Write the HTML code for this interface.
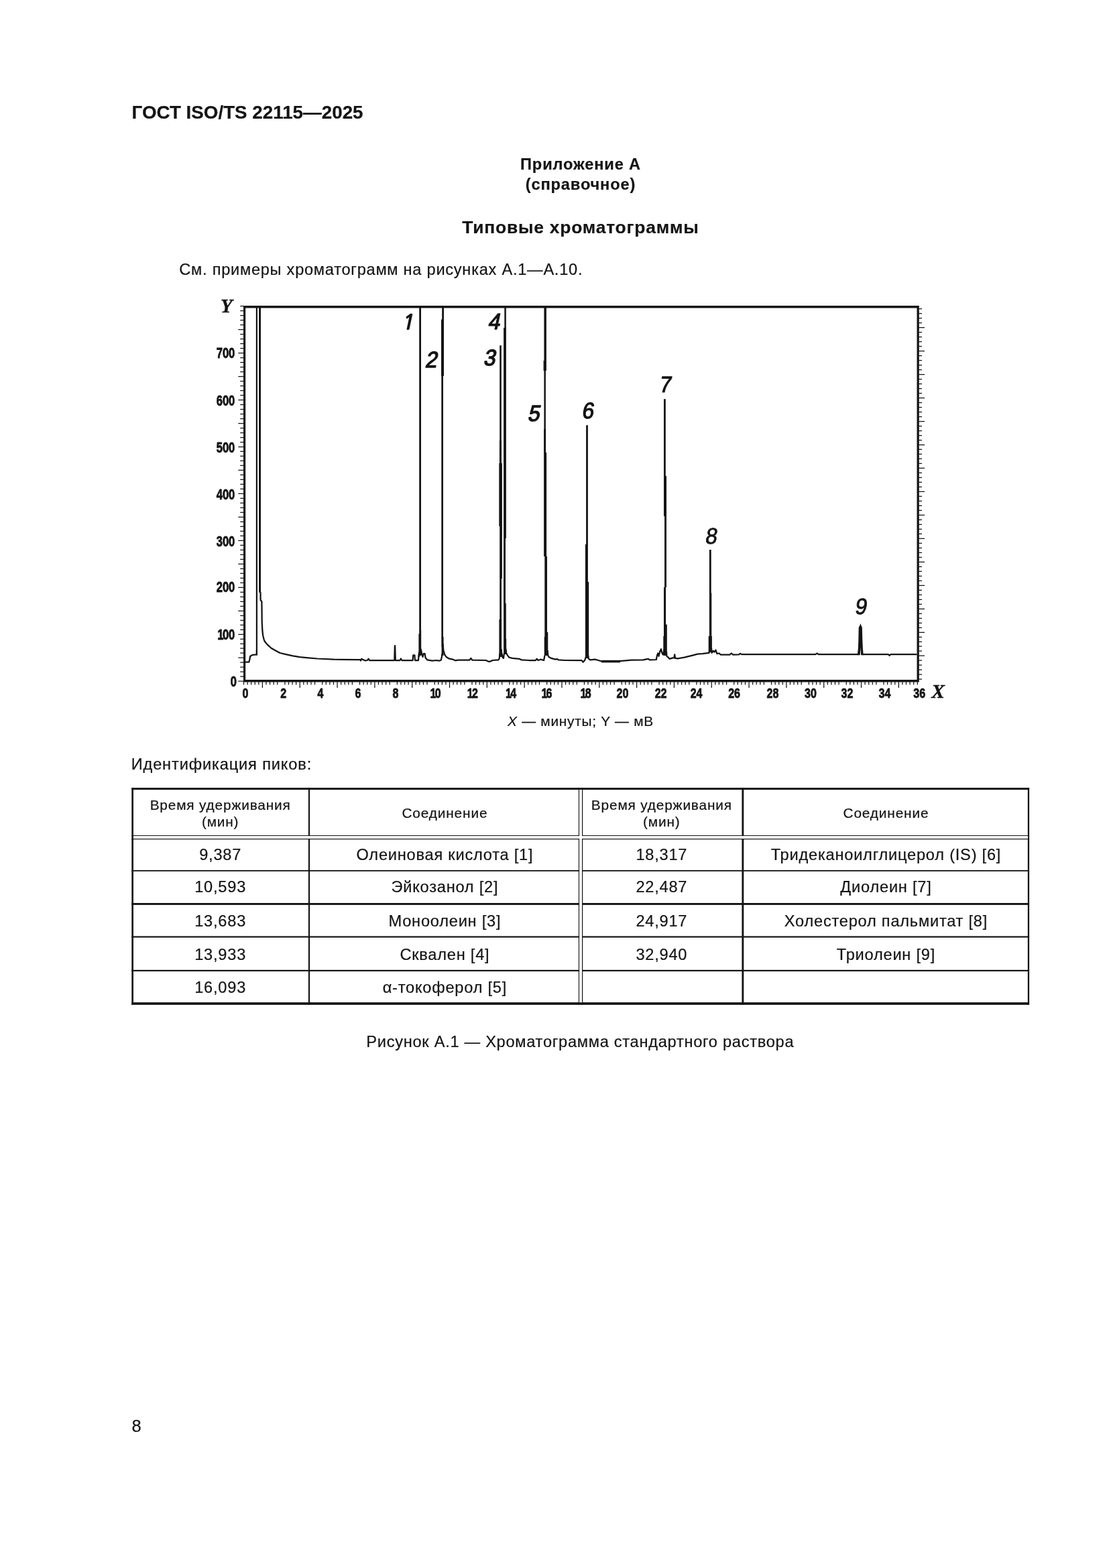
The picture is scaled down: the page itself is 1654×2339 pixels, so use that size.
<!DOCTYPE html>
<html lang="ru">
<head>
<meta charset="utf-8">
<title>ГОСТ ISO/TS 22115—2025 — Приложение А</title>
<style>
html,body{margin:0;padding:0;background:#fff;}
body{width:1654px;height:2339px;position:relative;overflow:hidden;color:#141414;
  font-family:"Liberation Sans",Arial,Helvetica,sans-serif;}
.t{position:absolute;white-space:nowrap;line-height:1;margin:0;}
.t,table.pk{-webkit-text-stroke:.22px #141414;}
.c{text-align:center;left:0;width:1732px;}
.cap{left:-.7px;}
.hdr{left:196.6px;top:153.5px;font-size:27.78px;font-weight:bold;}
.app{top:231.2px;font-size:23.6px;font-weight:bold;line-height:29.8px;letter-spacing:.85px;}
.ttl{top:326.1px;font-size:26.4px;font-weight:bold;letter-spacing:.79px;}
.see{left:267.3px;top:390.8px;font-size:23.6px;letter-spacing:.74px;}
.axcap{top:1065.8px;font-size:20.83px;letter-spacing:.75px;}
.idp{left:195.7px;top:1128.8px;font-size:23.6px;letter-spacing:.86px;}
.cap{top:1542.5px;font-size:23.6px;letter-spacing:.73px;}
.pn{left:196.5px;top:2114.7px;font-size:25.5px;}
svg.chart{position:absolute;left:0;top:0;}
svg .p1{font-family:"NanumGothic","IPAGothic","Liberation Sans",sans-serif !important;stroke-width:2px !important;}
svg .tk{font-family:"Liberation Sans",Arial,sans-serif;font-weight:bold;fill:#141414;stroke:#141414;stroke-width:.8px;stroke-linejoin:round;}
svg .ax{font-family:"Liberation Serif","Times New Roman",serif;font-weight:bold;font-style:italic;fill:#141414;stroke:#141414;stroke-width:.4px;}
svg .pk{font-family:"Liberation Sans",Arial,sans-serif;fill:#141414;stroke:#141414;stroke-width:1.5px;stroke-linejoin:round;}
svg .pl{stroke-width:.9px;}
svg .pm{stroke-width:1.25px;}
table.pk{position:absolute;left:196.3px;top:1175.1px;border-collapse:collapse;table-layout:fixed;
  width:1338.8px;font-size:23.6px;letter-spacing:.78px;text-align:center;}
table.pk td{padding:3.6px 0 0 0;}
table.pk th{padding:2.4px 0 0 0;}
table.pk td,table.pk th{font-weight:normal;vertical-align:middle;line-height:1;}
table.pk th.h2{font-size:20.83px;letter-spacing:.83px;line-height:25px;}
table.pk th.h1{font-size:20.83px;letter-spacing:.85px;}
svg.tl{position:absolute;left:0;top:1170px;}
</style>
</head>
<body>
<div class="t hdr">ГОСТ ISO/TS 22115—2025</div>
<div class="t c app">Приложение А<br>(справочное)</div>
<div class="t c ttl">Типовые хроматограммы</div>
<div class="t see">См. примеры хроматограмм на рисунках А.1—А.10.</div>
<svg class="chart" width="1654" height="1100" viewBox="0 0 1654 1100">
<path d="M363 456H1370.8V1017.6H363Z M366.2 459.6V1013.9H1367.5V459.6Z" fill="#141414" fill-rule="evenodd"/>
<path d="M355.3 1016.20H363.5M1370.3 1013.20H1375.0M358.2 1009.21H363.5M1370.3 1006.21H1375.0M358.2 1002.21H363.5M1370.3 999.21H1375.0M358.2 995.22H363.5M1370.3 992.22H1375.0M358.2 988.22H363.5M1370.3 985.22H1375.0M355.3 981.23H363.5M1370.3 978.23H1379.0M358.2 974.24H363.5M1370.3 971.24H1375.0M358.2 967.24H363.5M1370.3 964.24H1375.0M358.2 960.25H363.5M1370.3 957.25H1375.0M358.2 953.25H363.5M1370.3 950.25H1375.0M355.3 946.26H363.5M1370.3 943.26H1379.0M358.2 939.27H363.5M1370.3 936.27H1375.0M358.2 932.27H363.5M1370.3 929.27H1375.0M358.2 925.28H363.5M1370.3 922.28H1375.0M358.2 918.28H363.5M1370.3 915.28H1375.0M355.3 911.29H363.5M1370.3 908.29H1379.0M358.2 904.30H363.5M1370.3 901.30H1375.0M358.2 897.30H363.5M1370.3 894.30H1375.0M358.2 890.31H363.5M1370.3 887.31H1375.0M358.2 883.31H363.5M1370.3 880.31H1375.0M355.3 876.32H363.5M1370.3 873.32H1379.0M358.2 869.33H363.5M1370.3 866.33H1375.0M358.2 862.33H363.5M1370.3 859.33H1375.0M358.2 855.34H363.5M1370.3 852.34H1375.0M358.2 848.34H363.5M1370.3 845.34H1375.0M355.3 841.35H363.5M1370.3 838.35H1379.0M358.2 834.36H363.5M1370.3 831.36H1375.0M358.2 827.36H363.5M1370.3 824.36H1375.0M358.2 820.37H363.5M1370.3 817.37H1375.0M358.2 813.37H363.5M1370.3 810.37H1375.0M355.3 806.38H363.5M1370.3 803.38H1379.0M358.2 799.39H363.5M1370.3 796.39H1375.0M358.2 792.39H363.5M1370.3 789.39H1375.0M358.2 785.40H363.5M1370.3 782.40H1375.0M358.2 778.40H363.5M1370.3 775.40H1375.0M355.3 771.41H363.5M1370.3 768.41H1379.0M358.2 764.42H363.5M1370.3 761.42H1375.0M358.2 757.42H363.5M1370.3 754.42H1375.0M358.2 750.43H363.5M1370.3 747.43H1375.0M358.2 743.43H363.5M1370.3 740.43H1375.0M355.3 736.44H363.5M1370.3 733.44H1379.0M358.2 729.45H363.5M1370.3 726.45H1375.0M358.2 722.45H363.5M1370.3 719.45H1375.0M358.2 715.46H363.5M1370.3 712.46H1375.0M358.2 708.46H363.5M1370.3 705.46H1375.0M355.3 701.47H363.5M1370.3 698.47H1379.0M358.2 694.48H363.5M1370.3 691.48H1375.0M358.2 687.48H363.5M1370.3 684.48H1375.0M358.2 680.49H363.5M1370.3 677.49H1375.0M358.2 673.49H363.5M1370.3 670.49H1375.0M355.3 666.50H363.5M1370.3 663.50H1379.0M358.2 659.51H363.5M1370.3 656.51H1375.0M358.2 652.51H363.5M1370.3 649.51H1375.0M358.2 645.52H363.5M1370.3 642.52H1375.0M358.2 638.52H363.5M1370.3 635.52H1375.0M355.3 631.53H363.5M1370.3 628.53H1379.0M358.2 624.54H363.5M1370.3 621.54H1375.0M358.2 617.54H363.5M1370.3 614.54H1375.0M358.2 610.55H363.5M1370.3 607.55H1375.0M358.2 603.55H363.5M1370.3 600.55H1375.0M355.3 596.56H363.5M1370.3 593.56H1379.0M358.2 589.57H363.5M1370.3 586.57H1375.0M358.2 582.57H363.5M1370.3 579.57H1375.0M358.2 575.58H363.5M1370.3 572.58H1375.0M358.2 568.58H363.5M1370.3 565.58H1375.0M355.3 561.59H363.5M1370.3 558.59H1379.0M358.2 554.60H363.5M1370.3 551.60H1375.0M358.2 547.60H363.5M1370.3 544.60H1375.0M358.2 540.61H363.5M1370.3 537.61H1375.0M358.2 533.61H363.5M1370.3 530.61H1375.0M355.3 526.62H363.5M1370.3 523.62H1379.0M358.2 519.63H363.5M1370.3 516.63H1375.0M358.2 512.63H363.5M1370.3 509.63H1375.0M358.2 505.64H363.5M1370.3 502.64H1375.0M358.2 498.64H363.5M1370.3 495.64H1375.0M355.3 491.65H363.5M1370.3 488.65H1379.0M358.2 484.66H363.5M1370.3 481.66H1375.0M358.2 477.66H363.5M1370.3 474.66H1375.0M358.2 470.67H363.5M1370.3 467.67H1375.0M358.2 463.67H363.5M1370.3 460.67H1375.0M358.2 456.68H363.5M363.50 1017.1V1021.6M369.08 1017.1V1021.6M374.66 1017.1V1021.6M380.25 1017.1V1021.6M385.83 1017.1V1021.6M391.41 1017.1V1025.9M396.99 1017.1V1021.6M402.57 1017.1V1021.6M408.16 1017.1V1021.6M413.74 1017.1V1021.6M424.90 1017.1V1021.6M430.48 1017.1V1021.6M436.07 1017.1V1021.6M441.65 1017.1V1021.6M447.23 1017.1V1025.9M452.81 1017.1V1021.6M458.39 1017.1V1021.6M463.98 1017.1V1021.6M469.56 1017.1V1021.6M480.72 1017.1V1021.6M486.30 1017.1V1021.6M491.89 1017.1V1021.6M497.47 1017.1V1021.6M503.05 1017.1V1025.9M508.63 1017.1V1021.6M514.21 1017.1V1021.6M519.80 1017.1V1021.6M525.38 1017.1V1021.6M536.54 1017.1V1021.6M542.12 1017.1V1021.6M547.71 1017.1V1021.6M553.29 1017.1V1021.6M558.87 1017.1V1025.9M564.45 1017.1V1021.6M570.03 1017.1V1021.6M575.62 1017.1V1021.6M581.20 1017.1V1021.6M592.36 1017.1V1021.6M597.94 1017.1V1021.6M603.53 1017.1V1021.6M609.11 1017.1V1021.6M614.69 1017.1V1025.9M620.27 1017.1V1021.6M625.85 1017.1V1021.6M631.44 1017.1V1021.6M637.02 1017.1V1021.6M648.18 1017.1V1021.6M653.76 1017.1V1021.6M659.35 1017.1V1021.6M664.93 1017.1V1021.6M670.51 1017.1V1025.9M676.09 1017.1V1021.6M681.67 1017.1V1021.6M687.26 1017.1V1021.6M692.84 1017.1V1021.6M704.00 1017.1V1021.6M709.58 1017.1V1021.6M715.17 1017.1V1021.6M720.75 1017.1V1021.6M726.33 1017.1V1025.9M731.91 1017.1V1021.6M737.49 1017.1V1021.6M743.08 1017.1V1021.6M748.66 1017.1V1021.6M759.82 1017.1V1021.6M765.40 1017.1V1021.6M770.99 1017.1V1021.6M776.57 1017.1V1021.6M782.15 1017.1V1025.9M787.73 1017.1V1021.6M793.31 1017.1V1021.6M798.90 1017.1V1021.6M804.48 1017.1V1021.6M815.64 1017.1V1021.6M821.22 1017.1V1021.6M826.81 1017.1V1021.6M832.39 1017.1V1021.6M837.97 1017.1V1025.9M843.55 1017.1V1021.6M849.13 1017.1V1021.6M854.72 1017.1V1021.6M860.30 1017.1V1021.6M871.46 1017.1V1021.6M877.04 1017.1V1021.6M882.63 1017.1V1021.6M888.21 1017.1V1021.6M893.79 1017.1V1025.9M899.37 1017.1V1021.6M904.95 1017.1V1021.6M910.54 1017.1V1021.6M916.12 1017.1V1021.6M927.28 1017.1V1021.6M932.86 1017.1V1021.6M938.45 1017.1V1021.6M944.03 1017.1V1021.6M949.61 1017.1V1025.9M955.19 1017.1V1021.6M960.77 1017.1V1021.6M966.36 1017.1V1021.6M971.94 1017.1V1021.6M983.10 1017.1V1021.6M988.68 1017.1V1021.6M994.27 1017.1V1021.6M999.85 1017.1V1021.6M1005.43 1017.1V1025.9M1011.01 1017.1V1021.6M1016.59 1017.1V1021.6M1022.18 1017.1V1021.6M1027.76 1017.1V1021.6M1038.92 1017.1V1021.6M1044.50 1017.1V1021.6M1050.09 1017.1V1021.6M1055.67 1017.1V1021.6M1061.25 1017.1V1025.9M1066.83 1017.1V1021.6M1072.41 1017.1V1021.6M1078.00 1017.1V1021.6M1083.58 1017.1V1021.6M1094.74 1017.1V1021.6M1100.32 1017.1V1021.6M1105.91 1017.1V1021.6M1111.49 1017.1V1021.6M1117.07 1017.1V1025.9M1122.65 1017.1V1021.6M1128.23 1017.1V1021.6M1133.82 1017.1V1021.6M1139.40 1017.1V1021.6M1150.56 1017.1V1021.6M1156.14 1017.1V1021.6M1161.73 1017.1V1021.6M1167.31 1017.1V1021.6M1172.89 1017.1V1025.9M1178.47 1017.1V1021.6M1184.05 1017.1V1021.6M1189.64 1017.1V1021.6M1195.22 1017.1V1021.6M1206.38 1017.1V1021.6M1211.96 1017.1V1021.6M1217.55 1017.1V1021.6M1223.13 1017.1V1021.6M1228.71 1017.1V1025.9M1234.29 1017.1V1021.6M1239.87 1017.1V1021.6M1245.46 1017.1V1021.6M1251.04 1017.1V1021.6M1262.20 1017.1V1021.6M1267.78 1017.1V1021.6M1273.37 1017.1V1021.6M1278.95 1017.1V1021.6M1284.53 1017.1V1025.9M1290.11 1017.1V1021.6M1295.69 1017.1V1021.6M1301.28 1017.1V1021.6M1306.86 1017.1V1021.6M1318.02 1017.1V1021.6M1323.60 1017.1V1021.6M1329.19 1017.1V1021.6M1334.77 1017.1V1021.6M1340.35 1017.1V1025.9M1345.93 1017.1V1021.6M1351.51 1017.1V1021.6M1357.10 1017.1V1021.6M1362.68 1017.1V1021.6M1368.26 1017.1V1021.6" fill="none" stroke="#141414" stroke-width="1.25"/>
<polyline points="366.0,987.7 371.3,987.7 372.3,984.0 373.2,979.0 375.0,977.8 377.5,976.8 382.9,976.3 382.9,970.0" fill="none" stroke="#141414" stroke-width="2.25" stroke-linejoin="round" stroke-linecap="butt"/>
<polyline points="387.6,880.0 387.6,882.8 388.5,884.0 388.6,895.0 390.4,897.5 390.7,928.0 391.4,941.0 392.2,948.0 393.5,953.3 394.8,956.8 398.3,961.1 404.4,966.8 412.3,971.2 417.5,974.0 425.3,975.8 436.7,978.4 447.1,980.1 460.0,981.4 473.3,982.5 497.9,983.7 537.3,984.1 538.0,985.6 539.2,982.8 541.0,983.7 544.7,985.4 548.0,985.0 549.5,982.6 551.0,985.0 553.5,985.0 588.3,985.0 588.8,964.5 589.0,963.2 589.2,964.5 589.8,985.0 596.5,985.0 597.9,982.5 599.3,985.0 615.6,985.0 616.2,977.4 618.4,977.4 618.9,985.0 624.0,985.0 624.6,976.0 625.6,972.0" fill="none" stroke="#141414" stroke-width="2.25" stroke-linejoin="round" stroke-linecap="butt"/>
<polyline points="627.6,968.0 628.1,970.2 629.3,976.4 630.5,980.0 631.7,975.1 633.6,975.1 634.6,981.3 637.3,984.4 644.7,985.6 650.8,985.0 654.5,985.6 657.6,985.0 658.9,980.0 659.4,975.0" fill="none" stroke="#141414" stroke-width="2.25" stroke-linejoin="round" stroke-linecap="butt"/>
<polyline points="660.6,960.0 661.3,970.2 663.2,976.4 665.6,980.0 669.3,982.3 675.5,983.7 679.2,985.3 682.9,984.7 700.1,984.7 702.3,981.9 704.4,984.7 724.7,985.0 728.4,986.8 730.9,986.8 734.6,985.0 743.4,984.4 744.8,982.0 745.4,975.0" fill="none" stroke="#141414" stroke-width="2.25" stroke-linejoin="round" stroke-linecap="butt"/>
<polyline points="747.6,968.0 748.2,973.9 749.6,980.7 751.0,981.9 751.8,975.0" fill="none" stroke="#141414" stroke-width="2.25" stroke-linejoin="round" stroke-linecap="butt"/>
<polyline points="754.4,968.0 755.1,973.9 756.9,977.6 759.4,980.7 764.3,981.9 774.2,982.8 777.9,984.4 789.0,985.0 798.8,985.0 800.7,982.8 802.5,985.0 806.2,983.7 811.1,985.0 812.4,978.0" fill="none" stroke="#141414" stroke-width="2.25" stroke-linejoin="round" stroke-linecap="butt"/>
<polyline points="816.6,970.0 817.3,977.6 818.5,980.0 822.2,981.9 828.4,983.7 830.8,983.1 833.3,984.4 843.2,985.0 867.8,985.2 869.6,987.7 872.1,985.0 873.8,980.0" fill="none" stroke="#141414" stroke-width="2.25" stroke-linejoin="round" stroke-linecap="butt"/>
<polyline points="877.2,978.0 877.8,982.5 880.1,984.4 887.5,983.7 892.4,985.0 897.3,986.5 924.6,986.2 941.9,984.7 959.1,984.4 966.5,982.8 969.0,984.4 978.8,984.0 980.0,977.6 981.3,974.5 982.5,978.8 984.4,971.4 986.0,968.3 987.4,973.9 988.7,976.4 989.9,972.7 990.8,968.0" fill="none" stroke="#141414" stroke-width="2.25" stroke-linejoin="round" stroke-linecap="butt"/>
<polyline points="994.0,972.0 994.4,978.8 996.0,980.0 998.5,982.8 1003.4,981.3 1005.3,981.5 1006.2,976.4 1007.1,981.9 1010.8,982.3 1020.7,980.7 1033.0,977.6 1040.4,975.7 1047.8,975.1 1057.6,973.9 1058.6,968.0" fill="none" stroke="#141414" stroke-width="2.25" stroke-linejoin="round" stroke-linecap="butt"/>
<polyline points="1060.9,966.0 1061.6,973.9 1063.8,970.8 1065.6,972.7 1067.5,969.6 1069.3,975.1 1072.4,974.5 1074.9,976.6 1088.4,976.6 1090.9,974.5 1093.3,976.6 1102.0,976.4 1104.0,974.8 1106.0,976.2 1216.0,976.2 1218.6,974.6 1221.0,976.2 1280.2,976.1" fill="none" stroke="#141414" stroke-width="2.25" stroke-linejoin="round" stroke-linecap="butt"/>
<polyline points="1286.4,976.1 1325.0,976.1 1326.6,978.0 1328.2,976.1 1367.5,976.1" fill="none" stroke="#141414" stroke-width="2.25" stroke-linejoin="round" stroke-linecap="butt"/>
<path d="M1278.6 977.3L1279.8 968L1280.3 955L1280.7 936L1282.5 932.6L1283.4 930L1284.3 932.6L1285.8 936L1286.3 955L1286.9 968L1287.8 977.3L1284.1 977.3L1283.4 965.5L1282.7 977.3Z" fill="#141414"/>
<path d="M897 986.6H925" stroke="#141414" stroke-width="3.6" fill="none"/>
<path d="M381.8 458.0H384.0V977.4H381.8ZM386.1 458.0H389.0V883.5H386.1ZM625.2 458.0H628.0V972.0H625.2ZM624.4 945.6H626.2V980.0H624.4ZM625.2 940.0H628.2V978.0H625.2ZM659.2 458.0H662.0V476.4H659.2ZM658.0 476.4H662.0V560.7H658.0ZM658.3 560.7H661.0V965.0H658.3ZM658.6 950.0H661.6V978.0H658.6ZM745.2 515.3H747.8V657.0H745.2ZM744.9 657.0H748.0V691.0H744.9ZM744.3 691.0H748.9V785.0H744.3ZM745.2 785.0H748.9V863.0H745.2ZM745.2 863.0H748.0V924.0H745.2ZM744.4 924.0H748.1V980.0H744.4ZM752.3 458.0H754.8V489.0H752.3ZM751.1 489.0H754.9V803.0H751.1ZM751.0 803.0H754.0V900.0H751.0ZM751.1 900.0H754.8V953.0H751.1ZM751.1 953.0H755.2V976.0H751.1ZM811.4 458.0H814.9V538.0H811.4ZM810.6 538.0H814.9V553.0H810.6ZM811.4 553.0H813.9V640.0H811.4ZM811.1 640.0H814.1V675.0H811.1ZM811.1 675.0H815.1V830.0H811.1ZM812.3 830.0H816.0V943.0H812.3ZM812.3 943.0H817.3V950.0H812.3ZM811.7 950.0H817.3V978.0H811.7ZM874.1 634.3H876.9V812.0H874.1ZM872.9 812.0H876.9V868.0H872.9ZM872.9 868.0H878.2V982.0H872.9ZM990.0 595.2H992.8V710.0H990.0ZM990.0 710.0H994.0V770.0H990.0ZM991.0 770.0H994.0V876.0H991.0ZM990.0 876.0H993.1V931.5H990.0ZM990.0 931.5H994.8V949.0H990.0ZM989.3 949.0H994.8V978.0H989.3ZM1057.9 820.0H1060.7V884.4H1057.9ZM1057.9 884.4H1061.3V949.0H1057.9ZM1056.7 949.0H1061.9V973.0H1056.7Z" fill="#141414"/>
<text transform="translate(350.3,534.3) scale(0.78,1)" text-anchor="end" class="tk" font-size="21.2">700</text>
<text transform="translate(350.3,604.6) scale(0.78,1)" text-anchor="end" class="tk" font-size="21.2">600</text>
<text transform="translate(350.3,674.8) scale(0.78,1)" text-anchor="end" class="tk" font-size="21.2">500</text>
<text transform="translate(350.3,745.4) scale(0.78,1)" text-anchor="end" class="tk" font-size="21.2">400</text>
<text transform="translate(350.3,814.7) scale(0.78,1)" text-anchor="end" class="tk" font-size="21.2">300</text>
<text transform="translate(350.3,882.7) scale(0.78,1)" text-anchor="end" class="tk" font-size="21.2">200</text>
<text transform="translate(350.3,953.5) scale(0.78,1)" text-anchor="end" dx="0 -2.1" class="tk" font-size="21.2">100</text>
<text transform="translate(353.0,1023.6) scale(0.78,1)" text-anchor="end" class="tk" font-size="21.2">0</text>
<text transform="translate(361.5,1041.1) scale(0.8,1)" text-anchor="start" class="tk" font-size="20.0">0</text>
<text transform="translate(418.2,1041.1) scale(0.8,1)" text-anchor="start" class="tk" font-size="20.0">2</text>
<text transform="translate(473.6,1041.1) scale(0.8,1)" text-anchor="start" class="tk" font-size="20.0">4</text>
<text transform="translate(529.6,1041.1) scale(0.8,1)" text-anchor="start" class="tk" font-size="20.0">6</text>
<text transform="translate(585.4,1041.1) scale(0.8,1)" text-anchor="start" class="tk" font-size="20.0">8</text>
<text transform="translate(641.5,1041.1) scale(0.8,1)" text-anchor="start" dx="0 -2.1" class="tk" font-size="20.0">10</text>
<text transform="translate(696.8,1041.1) scale(0.8,1)" text-anchor="start" dx="0 -2.1" class="tk" font-size="20.0">12</text>
<text transform="translate(754.0,1041.1) scale(0.8,1)" text-anchor="start" dx="0 -2.1" class="tk" font-size="20.0">14</text>
<text transform="translate(807.4,1041.1) scale(0.8,1)" text-anchor="start" dx="0 -2.1" class="tk" font-size="20.0">16</text>
<text transform="translate(865.6,1041.1) scale(0.8,1)" text-anchor="start" dx="0 -2.1" class="tk" font-size="20.0">18</text>
<text transform="translate(919.6,1041.1) scale(0.8,1)" text-anchor="start" class="tk" font-size="20.0">20</text>
<text transform="translate(976.7,1041.1) scale(0.8,1)" text-anchor="start" class="tk" font-size="20.0">22</text>
<text transform="translate(1029.7,1041.1) scale(0.8,1)" text-anchor="start" class="tk" font-size="20.0">24</text>
<text transform="translate(1086.2,1041.1) scale(0.8,1)" text-anchor="start" class="tk" font-size="20.0">26</text>
<text transform="translate(1143.6,1041.1) scale(0.8,1)" text-anchor="start" class="tk" font-size="20.0">28</text>
<text transform="translate(1200.1,1041.1) scale(0.8,1)" text-anchor="start" class="tk" font-size="20.0">30</text>
<text transform="translate(1254.5,1041.1) scale(0.8,1)" text-anchor="start" class="tk" font-size="20.0">32</text>
<text transform="translate(1310.5,1041.1) scale(0.8,1)" text-anchor="start" class="tk" font-size="20.0">34</text>
<text transform="translate(1362.3,1041.1) scale(0.8,1)" text-anchor="start" class="tk" font-size="20.0">36</text>
<text x="329" y="466.2" class="ax" font-size="29">Y</text>
<text x="1389.3" y="1040.5" class="ax" font-size="29.5">X</text>
<text transform="translate(598.5,491.0) skewX(-12)" class="pk p1" font-size="30">1</text>
<text transform="translate(633.4,547.7) skewX(-12) scale(0.94,1)" class="pk" font-size="33.5">2</text>
<text transform="translate(720.4,544.8) skewX(-12) scale(0.94,1)" class="pk" font-size="33.5">3</text>
<text transform="translate(727.3,490.9) skewX(-12) scale(0.94,1)" class="pk" font-size="33.5">4</text>
<text transform="translate(786.4,627.5) skewX(-12) scale(0.94,1)" class="pk" font-size="33.5">5</text>
<text transform="translate(867.2,623.9) skewX(-9) scale(0.94,1)" class="pk pm" font-size="33.5">6</text>
<text transform="translate(982.5,585.1) skewX(-9) scale(0.94,1)" class="pk pm" font-size="33.5">7</text>
<text transform="translate(1051.1,810.9) skewX(-9) scale(0.94,1)" class="pk pl" font-size="33.5">8</text>
<text transform="translate(1274.3,916.1) skewX(-9) scale(0.94,1)" class="pk pl" font-size="33.5">9</text>
</svg>
<div class="t c axcap"><i>X</i> — минуты; Y — мВ</div>
<div class="t idp">Идентификация пиков:</div>
<table class="pk">
<colgroup><col style="width:264.70px"><col style="width:404.85px"><col style="width:242.00px"><col style="width:427.25px"></colgroup>
<thead><tr style="height:73.55px"><th class="h2">Время удерживания<br>(мин)</th><th class="h1">Соединение</th><th class="h2">Время удерживания<br>(мин)</th><th class="h1">Соединение</th></tr></thead>
<tbody>
<tr style="height:49.90px"><td style="padding-top:3.6px">9,387</td><td style="padding-top:3.6px">Олеиновая кислота [1]</td><td style="padding-top:3.6px">18,317</td><td style="padding-top:3.6px">Тридеканоилглицерол (IS) [6]</td></tr>
<tr style="height:50.00px"><td style="padding-top:1.0px">10,593</td><td style="padding-top:1.0px">Эйкозанол [2]</td><td style="padding-top:1.0px">22,487</td><td style="padding-top:1.0px">Диолеин [7]</td></tr>
<tr style="height:48.95px"><td style="padding-top:3.6px">13,683</td><td style="padding-top:3.6px">Моноолеин [3]</td><td style="padding-top:3.6px">24,917</td><td style="padding-top:3.6px">Холестерол пальмитат [8]</td></tr>
<tr style="height:50.40px"><td style="padding-top:3.6px">13,933</td><td style="padding-top:3.6px">Сквален [4]</td><td style="padding-top:3.6px">32,940</td><td style="padding-top:3.6px">Триолеин [9]</td></tr>
<tr style="height:51.00px"><td style="padding-top:1.4px">16,093</td><td style="padding-top:1.4px">α-токоферол [5]</td><td style="padding-top:1.4px"></td><td style="padding-top:1.4px"></td></tr>
</tbody></table>
<svg class="tl" width="1654" height="340" viewBox="0 1170 1654 340" fill="#141414"><rect x="196.3" y="1175.1" width="1338.8" height="3.0"/><rect x="196.3" y="1246.0" width="1338.8" height="1.1"/><rect x="196.3" y="1251.0" width="1338.8" height="1.2"/><rect x="196.3" y="1298.0" width="1338.8" height="1.8"/><rect x="196.3" y="1347.0" width="1338.8" height="2.9"/><rect x="196.3" y="1396.4" width="1338.8" height="2.2"/><rect x="196.3" y="1446.8" width="1338.8" height="2.2"/><rect x="196.3" y="1495.2" width="1338.8" height="3.7"/><rect x="196.3" y="1175.1" width="2.7" height="323.8"/><rect x="459.9" y="1175.1" width="2.2" height="323.8"/><rect x="862.9" y="1175.1" width="1.2" height="323.8"/><rect x="868.0" y="1175.1" width="1.2" height="323.8"/><rect x="1106.4" y="1175.1" width="2.9" height="323.8"/><rect x="1532.8" y="1175.1" width="2.3" height="323.8"/><g fill="#fff"><rect x="864.15" y="1178.1" width="3.8" height="317.1"/><rect x="199" y="1247.1" width="1333.8" height="3.9"/></g></svg>
<div class="t c cap">Рисунок А.1 — Хроматограмма стандартного раствора</div>
<div class="t pn">8</div>
</body>
</html>
